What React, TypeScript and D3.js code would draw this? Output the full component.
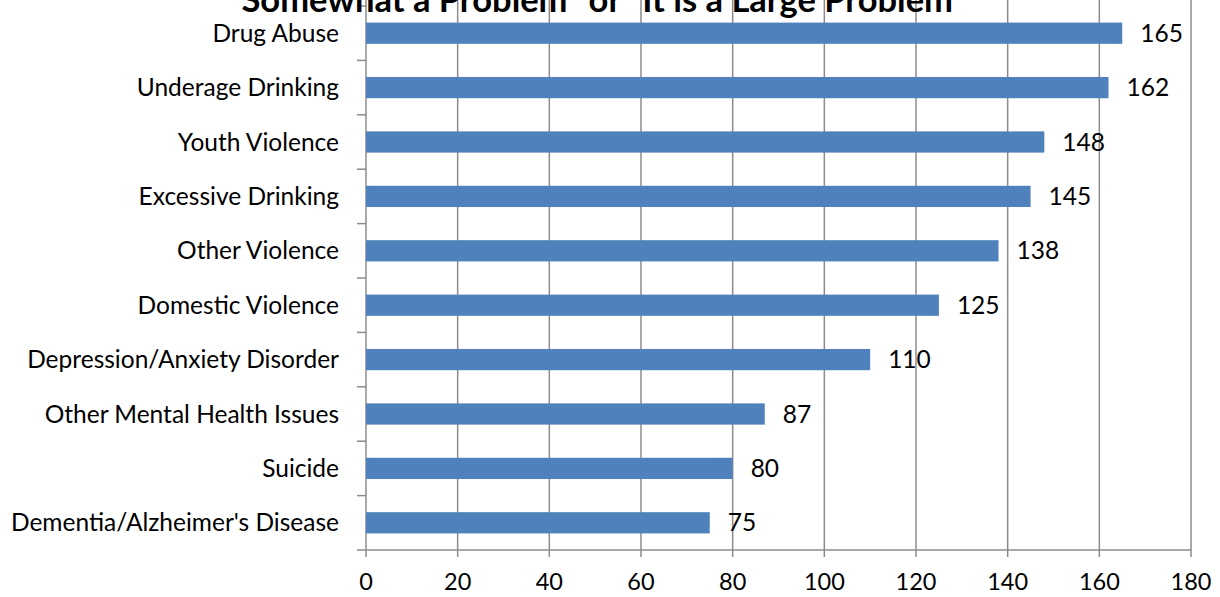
import React from "react";
import * as d3 from "d3";

const categories = [
  "Drug Abuse",
  "Underage Drinking",
  "Youth Violence",
  "Excessive Drinking",
  "Other Violence",
  "Domestic Violence",
  "Depression/Anxiety Disorder",
  "Other Mental Health Issues",
  "Suicide",
  "Dementia/Alzheimer's Disease",
];
const values = [165, 162, 148, 145, 138, 125, 110, 87, 80, 75];
const xTicks = [0, 20, 40, 60, 80, 100, 120, 140, 160, 180];
const title = "\u201cSomewhat a Problem\u201d or \u201cIt is a Large Problem\u201d";

export default function App() {
  const W = 1220, H = 597;
  const left = 366, right = 1191, top = 6, bottom = 550;
  const x = d3.scaleLinear().domain([0, 180]).range([left, right]);
  const y = d3.scaleBand().domain(categories).range([top, bottom]).paddingInner(0.61).paddingOuter(0.305);
  const step = (bottom - top) / categories.length;
  const font = "Lato, 'Open Sans', sans-serif";
  const grid = "#8c8c8c";
  const fs = 24.5;
  return (
    <svg width={W} height={H} style={{ position: "absolute", left: 0, top: 0, background: "#fff" }} fontFamily={font}>
      {xTicks.map((t) => (
        <line key={"g" + t} x1={x(t)} x2={x(t)} y1={top - 10} y2={bottom + 7} stroke={grid} strokeWidth={1.5} />
      ))}
      <line x1={left} x2={right} y1={bottom} y2={bottom} stroke={grid} strokeWidth={1.5} />
      {d3.range(categories.length + 1).map((i) => (
        <line key={"yt" + i} x1={left - 9} x2={left} y1={top + i * step} y2={top + i * step} stroke={grid} strokeWidth={1.5} />
      ))}
      {categories.map((c, i) => (
        <rect key={c} x={x(0)} y={y(c)!} width={x(values[i]) - x(0)} height={y.bandwidth()} fill="#4F81BD" />
      ))}
      {categories.map((c, i) => (
        <text key={"l" + c} x={339} y={y(c)! + y.bandwidth() / 2} dy="0.35em" textAnchor="end" fontSize={fs} fill="#000">
          {c}
        </text>
      ))}
      {categories.map((c, i) => (
        <text key={"v" + c} x={x(values[i]) + 18} y={y(c)! + y.bandwidth() / 2} dy="0.35em" fontSize={fs} fill="#000">
          {values[i]}
        </text>
      ))}
      {xTicks.map((t) => (
        <text key={"xt" + t} x={x(t)} y={590} textAnchor="middle" fontSize={23.5} fill="#000">
          {t}
        </text>
      ))}
      <text x={597} y={12} textAnchor="middle" fontSize={34.5} fontWeight="bold" fill="#000">
        {title}
      </text>
    </svg>
  );
}
